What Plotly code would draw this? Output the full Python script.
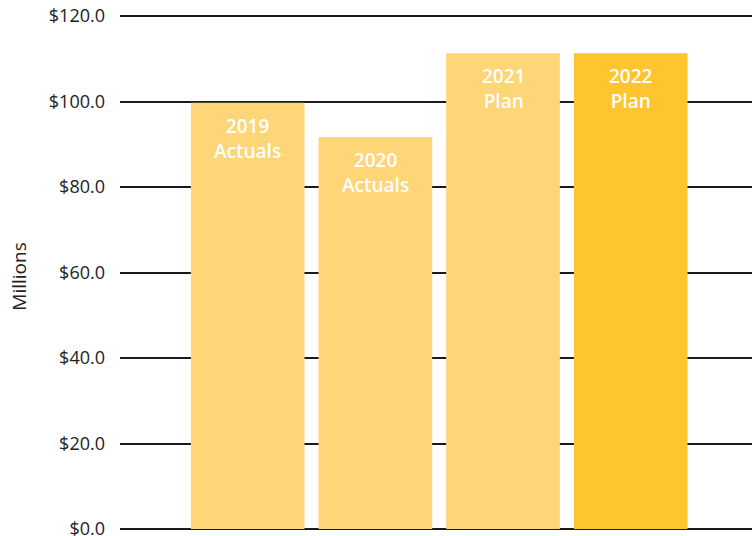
import plotly.graph_objects as go

categories = ["2019 Actuals", "2020 Actuals", "2021 Plan", "2022 Plan"]
label_year = ["2019", "2020", "2021", "2022"]
label_kind = ["Actuals", "Actuals", "Plan", "Plan"]
values = [99.7, 91.7, 111.3, 111.3]
colors = ["#FED577", "#FED577", "#FED577", "#FFC52F"]
tick_vals = [0, 20, 40, 60, 80, 100, 120]
tick_text = ["$0.0", "$20.0", "$40.0", "$60.0", "$80.0", "$100.0", "$120.0"]

FONT = "Open Sans"

fig = go.Figure()
fig.add_trace(go.Bar(
    x=categories, y=values, marker=dict(color=colors, line=dict(width=0)),
    width=0.89, hoverinfo="skip",
))

for c, v, yr, k in zip(categories, values, label_year, label_kind):
    fig.add_annotation(
        x=c, y=v, xref="x", yref="y", text=f"{yr}<br>{k}",
        showarrow=False, yanchor="top", yshift=-8,
        font=dict(family=FONT, size=19, color="white", weight=600),
    )

fig.add_annotation(
    xref="paper", yref="paper", x=0, y=0.49, xshift=-101, text="Millions",
    textangle=-90, showarrow=False, xanchor="center", yanchor="middle",
    font=dict(family=FONT, size=19, color="#222222"),
)

fig.update_layout(
    width=752, height=536, margin=dict(l=120, r=0, t=14, b=7, autoexpand=False),
    plot_bgcolor="white", paper_bgcolor="white", showlegend=False,
    xaxis=dict(range=[-1, 3.95], showticklabels=False, showgrid=False,
               zeroline=False, showline=False, ticks=""),
    yaxis=dict(range=[0, 120.47], tickvals=tick_vals, ticktext=tick_text,
               showgrid=True, gridcolor="#1a1a1a", gridwidth=1.5,
               zeroline=True, zerolinecolor="#1a1a1a", zerolinewidth=1.5,
               showline=False, ticks="", ticklabelstandoff=14,
               ticklabeloverflow="allow",
               tickfont=dict(family=FONT, size=18, color="#222222")),
)

fig.write_html("out.html", config={"displayModeBar": False},
               post_script="document.body.style.margin='0';")
